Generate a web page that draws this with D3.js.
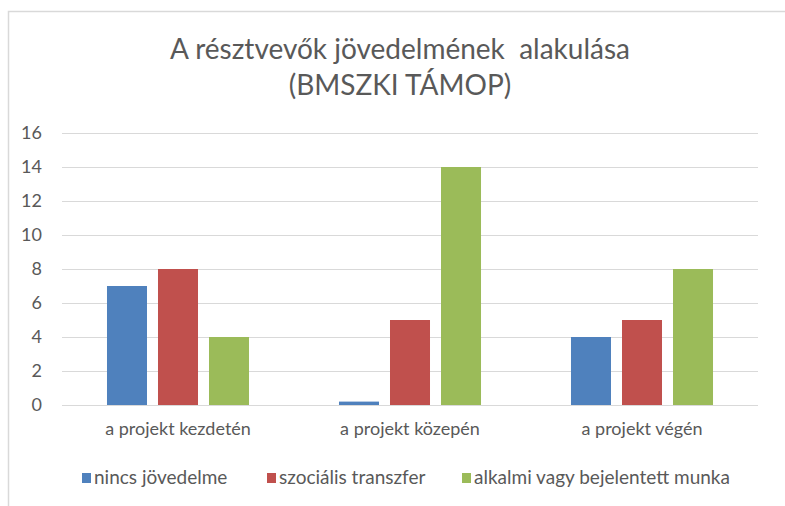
<!DOCTYPE html>
<html>
<head>
<meta charset="utf-8">
<script src="https://cdn.jsdelivr.net/npm/d3@7"></script>
<style>
  body { margin: 0; background: #fff; }
  text { font-family: Lato, "Open Sans", sans-serif; fill: #595959; }
</style>
</head>
<body>
<div id="chart"></div>
<script>
// Data
var categories = ["a projekt kezdetén", "a projekt közepén", "a projekt végén"];
var seriesNames = ["nincs jövedelme", "szociális transzfer", "alkalmi vagy bejelentett munka"];
var nincs = [7, 0.2, 4];
var szocialis = [8, 5, 5];
var alkalmi = [4, 14, 8];
var yTicks = [0, 2, 4, 6, 8, 10, 12, 14, 16];
var titleLines = ["A résztvevők jövedelmének  alakulása", "(BMSZKI TÁMOP)"];

var colors = ["#4f81bd", "#c0504d", "#9bbb59"];
var seriesValues = [nincs, szocialis, alkalmi];

// Dimensions
var W = 785, H = 506;
var plot = {left: 62, right: 758, top: 133, bottom: 405};

var svg = d3.select("#chart").append("svg")
  .attr("width", W)
  .attr("height", H);

// chart frame (only top/left edges visible)
svg.append("path")
  .attr("d", "M8.5," + H + "V11.5H" + W)
  .attr("fill", "none")
  .attr("stroke", "#d9d9d9")
  .attr("stroke-width", 1.5);

// Title
svg.selectAll(".title").data(titleLines).enter().append("text")
  .attr("class", "title")
  .attr("x", 400)
  .attr("y", function(d, i){ return 59 + i * 36; })
  .attr("text-anchor", "middle")
  .style("font-size", "28px")
  .style("white-space", "pre")
  .text(function(d){ return d; });

// Scales
var x0 = d3.scaleBand()
  .domain(categories)
  .range([plot.left, plot.right])
  .padding(0);

var x1 = d3.scaleBand()
  .domain(d3.range(seriesNames.length))
  .range([0, x0.bandwidth()])
  .paddingInner(0.2157)
  .paddingOuter(0.882);

var y = d3.scaleLinear()
  .domain([0, 16])
  .range([plot.bottom, plot.top]);

// Grid
var yAxis = d3.axisLeft(y)
  .tickValues(yTicks)
  .tickSize(-(plot.right - plot.left))
  .tickPadding(20)
  .tickFormat(d3.format("d"));

var gy = svg.append("g")
  .attr("transform", "translate(" + plot.left + ",0)")
  .call(yAxis);
gy.select(".domain").remove();
gy.selectAll("line").attr("stroke", "#d9d9d9");
gy.selectAll("text")
  .attr("font-family", null)
  .style("font-size", "18px")
  .attr("fill", "#595959");

// Bars
var groups = svg.selectAll(".cat").data(categories).enter().append("g")
  .attr("class", "cat")
  .attr("transform", function(d){ return "translate(" + x0(d) + ",0)"; });

groups.selectAll("rect")
  .data(function(d, ci){
    return seriesValues.map(function(vals, si){ return {s: si, v: vals[ci]}; });
  })
  .enter().append("rect")
  .attr("x", function(d){ return x1(d.s); })
  .attr("width", x1.bandwidth())
  .attr("y", function(d){ return y(d.v); })
  .attr("height", function(d){ return y(0) - y(d.v); })
  .attr("fill", function(d){ return colors[d.s]; });

// Category labels
var xAxis = d3.axisBottom(x0).tickSize(0).tickPadding(17);
var gx = svg.append("g")
  .attr("transform", "translate(0," + plot.bottom + ")")
  .call(xAxis);
gx.select(".domain").remove();
gx.selectAll("text")
  .attr("font-family", null)
  .style("font-size", "18px")
  .attr("fill", "#595959");

// Legend
var legendX = [82, 267, 462];
var legend = svg.selectAll(".legend").data(seriesNames).enter().append("g")
  .attr("class", "legend")
  .attr("transform", function(d, i){ return "translate(" + legendX[i] + ",473)"; });

legend.append("rect")
  .attr("width", 9)
  .attr("height", 10)
  .attr("fill", function(d, i){ return colors[i]; });

legend.append("text")
  .attr("x", 12)
  .attr("y", 11)
  .style("font-size", "19px")
  .text(function(d){ return d; });
</script>
</body>
</html>
